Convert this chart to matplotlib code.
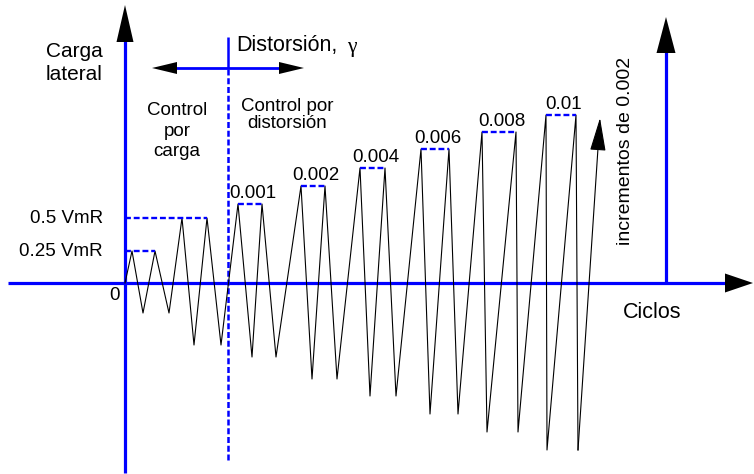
import matplotlib
matplotlib.use("Agg")
import matplotlib.pyplot as plt
import numpy as np

plt.rcParams['font.family'] = ['Liberation Sans', 'DejaVu Sans']

# protocolo de carga: picos y valles (x = ciclos, y = carga)
peak_x = [7, 30, 57, 82, 113, 137, 176, 200, 235, 260, 296, 324, 357, 391, 421, 451]
peak_y = [32, 32, 65, 65, 79, 79, 97, 97, 115, 115, 134, 134, 151, 151, 168, 168]
trough_x = [18, 44, 69, 96, 127, 151, 187, 212, 245, 271, 305, 333, 362, 393, 422, 453]
trough_y = [-30, -30, -62, -62, -74, -74, -96, -96, -113, -113, -131, -131, -149, -149, -167, -167]
end_arrow = (475, 165)

load_labels = ['0.25 VmR', '0.5 VmR']
drift_labels = ['0.001', '0.002', '0.004', '0.006', '0.008', '0.01']

BLUE = '#0000ff'

fig = plt.figure(figsize=(7.54, 4.74), dpi=100)
ax = fig.add_axes([0, 0, 1, 1])
ax.set_xlim(-125, 629)
ax.set_ylim(-191, 283)
ax.axis('off')


def head(tip, direction, length, half):
    # punta de flecha negra rellena
    d = np.array(direction, float)
    d = d / np.linalg.norm(d)
    n = np.array([-d[1], d[0]])
    t = np.array(tip, float)
    b = t - d * length
    pts = np.array([t, b + n * half, b - n * half])
    ax.fill(pts[:, 0], pts[:, 1], color='k', zorder=5, lw=0)


# ejes
ax.plot([0, 0], [-190, 245], color=BLUE, lw=2.3, solid_capstyle='butt')
head((0, 278), (0, 1), 37, 8.5)
ax.plot([-117, 605], [0, 0], color=BLUE, lw=2.3, solid_capstyle='butt')
head((628, 0), (1, 0), 28, 9.5)
ax.plot([541, 541], [0, 235], color=BLUE, lw=2.3, solid_capstyle='butt')
head((541, 266), (0, 1), 36, 9.5)

# separacion control por carga / distorsion
sep_x = peak_x[4] - 10
ax.plot([sep_x, sep_x], [215, 246], color=BLUE, lw=1.8, solid_capstyle='butt')
ax.plot([sep_x, sep_x], [-177, 215], color=BLUE, lw=1.8, dashes=(2.4, 1.1))
ax.plot([50, 156], [215, 215], color=BLUE, lw=2.0, solid_capstyle='butt')
head((27, 215), (-1, 0), 25, 6)
head((179, 215), (1, 0), 25, 6)

# historia de carga
xs = [0]
ys = [0]
for px, py, tx, ty in zip(peak_x, peak_y, trough_x, trough_y):
    xs += [px, tx]
    ys += [py, ty]
ax.plot(xs, ys, color='k', lw=0.8, zorder=3)
ax.annotate('', xy=end_arrow, xytext=(xs[-1], ys[-1]),
            arrowprops=dict(arrowstyle='-|>,head_length=2.1,head_width=0.5',
                            color='k', lw=0.8, shrinkA=0, shrinkB=0,
                            mutation_scale=10))

# niveles
for i in range(0, len(peak_x), 2):
    x0 = 0 if i < 4 else peak_x[i]
    ax.plot([x0, peak_x[i + 1]], [peak_y[i], peak_y[i]], color=BLUE, lw=1.7,
            dashes=(2.5, 1.2), zorder=4)
for i, lab in enumerate(load_labels):
    ax.text(-22, peak_y[2 * i], lab, ha='right', va='center', fontsize=13.5)
for i, lab in enumerate(drift_labels):
    j = 4 + 2 * i
    ax.text((peak_x[j] + peak_x[j + 1]) / 2 + 3, peak_y[j] + 2, lab,
            ha='center', va='bottom', fontsize=13.5)

# textos
ax.text(-10, -12, '0', ha='center', va='center', fontsize=13.5)
ax.text(-51, 220, 'Carga\nlateral', ha='center', va='center', fontsize=15,
        linespacing=1.3)
ax.text(111, 238, 'Distorsión,', ha='left', va='center', fontsize=15.5)
ax.text(222, 236, 'γ', ha='left', va='center', fontsize=15.5,
        family='Liberation Serif')
ax.text(52, 152, 'Control\npor\ncarga', ha='center', va='center', fontsize=13.5,
        linespacing=1.28)
ax.text(162, 168, 'Control por\ndistorsión', ha='center', va='center',
        fontsize=13.5, linespacing=1.07)
ax.text(527, -30, 'Ciclos', ha='center', va='center', fontsize=15.5)
ax.text(500, 132, 'incrementos de 0.002', ha='center', va='center',
        rotation=90, fontsize=14)

fig.savefig('out.png', dpi=100)
